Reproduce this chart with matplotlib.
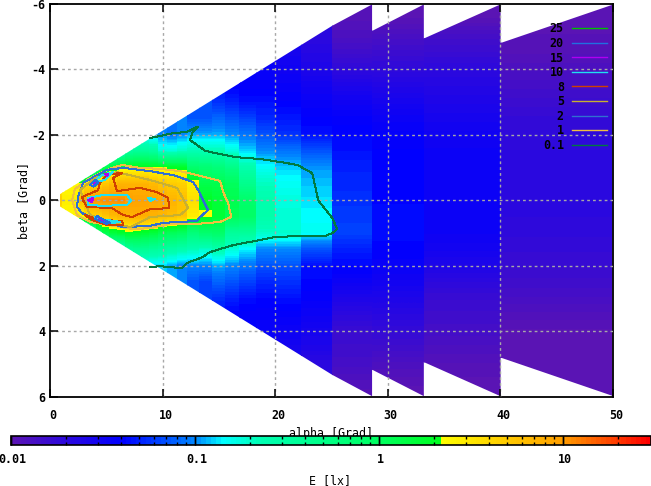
import numpy as np
import matplotlib
matplotlib.use("Agg")
import matplotlib.pyplot as plt
from matplotlib.colors import LinearSegmentedColormap, LogNorm, Normalize
from matplotlib.cm import ScalarMappable
from matplotlib.path import Path
from matplotlib.patches import PathPatch
from matplotlib.ticker import FixedLocator, FixedFormatter, NullFormatter
from matplotlib.transforms import ScaledTranslation

plt.rcParams['font.family'] = 'DejaVu Sans Mono'
plt.rcParams['font.weight'] = 'bold'
plt.rcParams['axes.unicode_minus'] = False
FS = 8.4

# ---- data ----
alpha_edges = [.85,1.05,1.35,1.65,2.05,2.55,3.05,3.55,4.05,4.65,5.25,5.95,6.65,7.35,8.05,8.75,
               9.55,10.35,11.25,12.15,13.2,14.4,15.5,16.8,18.3,20,22.3,25.07,28.6,33.2,40,49.95]
beta_step = 0.5
# log10(E) per alpha column, beta nodes centred on 0 with step 0.5
log_e_columns = [
 [.34,.72,.34],
 [.36,.45,.36],
 [.36,.44,.36],
 [.36,.44,.36],
 [-.2,.38,.44,.38,-.2],
 [-.5,.35,.8,.35,-.5],
 [-.6,.5,.95,.5,-.6],
 [-.5,.6,1.05,.6,-.5],
 [-.8,-.1,.62,1.05,.62,-.05,-.8],
 [-.75,.05,.72,1.05,.72,.1,-.75],
 [-.7,.2,.8,1.05,.8,.2,-.7],
 [-.7,.3,.85,1.05,.85,.25,-.7],
 [-.85,-.5,.33,.85,1.0,.85,.3,-.45,-.85],
 [-.85,-.45,.35,.85,.97,.88,.28,-.4,-.85],
 [-.9,-.45,.35,.85,.97,.88,.25,-.4,-.9],
 [-.95,-.5,.33,.8,.95,.85,.2,-.45,-.9],
 [-1.0,-.75,.33,.72,.92,.82,.1,-.5,-.9],
 [-1.05,-.75,.3,.68,.85,.78,.05,-.55,-.95],
 [-1.0,-.7,.28,.65,.78,.72,.0,-.6,-1.0],
 [-1.15,-.95,-.65,-.1,.45,.55,.45,-.2,-.65,-1.0,-1.15],
 [-1.15,-.95,-.65,-.15,.1,.3,.36,-.1,-.7,-1.0,-1.2],
 [-1.35,-1.25,-1.1,-.95,-.65,-.2,.1,.2,.22,-.05,-.6,-.95,-1.1,-1.25,-1.35],
 [-1.4,-1.3,-1.15,-1.0,-.75,-.3,.02,.08,.05,-.45,-.75,-1.0,-1.15,-1.3,-1.4],
 [-1.42,-1.35,-1.2,-1.05,-.9,-.6,-.35,-.08,-.05,-.45,-.85,-1.05,-1.2,-1.35,-1.42],
 [-1.45,-1.42,-1.35,-1.28,-1.15,-1.0,-.82,-.68,-.6,-.58,-.7,-1.0,-1.15,-1.28,-1.38,-1.42,-1.45],
 [-1.55,-1.5,-1.45,-1.4,-1.33,-1.25,-1.05,-.9,-.82,-.76,-.74,-.72,-1.0,-1.15,-1.25,-1.35,-1.42,-1.48,-1.55],
 [-1.7,-1.65,-1.6,-1.52,-1.45,-1.4,-1.35,-1.15,-.98,-.92,-.88,-.84,-.82,-1.15,-1.35,-1.38,-1.42,-1.48,-1.55,-1.6,-1.7],
 [-1.97,-1.95,-1.9,-1.82,-1.72,-1.6,-1.5,-1.42,-1.38,-1.35,-1.3,-1.28,-1.25,-1.22,-1.2,-1.3,-1.38,-1.48,-1.6,-1.7,-1.78,-1.82,-1.85,-1.92,-1.97],
 [-2.0,-1.97,-1.88,-1.8,-1.72,-1.63,-1.55,-1.47,-1.42,-1.4,-1.38,-1.38,-1.38,-1.36,-1.35,-1.4,-1.45,-1.52,-1.6,-1.68,-1.75,-1.82,-1.9,-1.96,-2.0],
 [-2.0,-1.97,-1.85,-1.78,-1.7,-1.65,-1.6,-1.55,-1.5,-1.48,-1.47,-1.47,-1.47,-1.47,-1.48,-1.53,-1.6,-1.7,-1.78,-1.82,-1.85,-1.9,-1.95,-1.98,-2.0],
 [-2.0,-2.0,-1.97,-1.95,-1.9,-1.85,-1.8,-1.75,-1.72,-1.7,-1.68,-1.68,-1.68,-1.7,-1.72,-1.75,-1.78,-1.82,-1.87,-1.93,-1.98,-2.0,-2.0,-2.0,-2.0],
]
wedge_start = [.85, 25.07, 28.6, 33.2, 40.0]
wedge_end = [25.07, 28.6, 33.2, 40.0, 49.95]
halfwidth_start = [.18, 5.33, 5.17, 4.94, 4.8]
halfwidth_end = [5.33, 5.98, 5.98, 5.98, 5.97]

c01_a = [8.89,10.93,12.18,13.07,13.16,12.62,12.44,13.78,15.11,16.44,18.67,20.44,21.96,23.29,23.56,23.82,25.07,25.51,25.07,24.44,22.22,20,18.22,16.27,14.49,14.04,13.6,12.18,11.73,10.67,9.78,8.89]
c01_b = [-1.90,-2.05,-2.09,-2.24,-2.24,-2.05,-1.84,-1.51,-1.41,-1.32,-1.26,-1.17,-1.08,-.83,-.41,0,.54,.88,1.0,1.09,1.09,1.12,1.24,1.37,1.55,1.61,1.73,1.91,2.07,2.04,2.01,2.04]
c1_a = [2.22,3.56,5.51,6.4,8,9.78,11.56,13.07,15.11,15.38,15.82,16.09,15.11,13.07,10.67,8.89,7.38,5.6,3.56,2.4,1.96,2.22]
c1_b = [-.35,-.68,-.99,-1.08,-.99,-.96,-.89,-.77,-.59,-.25,.08,.51,.66,.72,.72,.85,.88,.78,.66,.45,0,-.35]
c2_a = [2.93,5.07,6.49,8.89,10.93,12.71,13.16,13.6,14.04,13.33,13.07,10.04,8.89,6.49,4.18,2.84,2.4,2.49,2.93]
c2_b = [-.53,-.93,-.99,-.89,-.77,-.56,-.31,0,.3,.51,.63,.69,.78,.82,.6,.39,.2,-.1,-.53]
c5_a = [5.96,8.89,11.29,12.27,11.56,8.89,7.11,5.33,3.56,2.67,4,5.96]
c5_b = [-.86,-.62,-.38,.24,.45,.51,.82,.66,.45,-.31,-.68,-.86]
c8_a = [2.84,4.27,4.44,5.16,6.4,5.6,5.96,8,9.51,10.49,10.58,8.89,7.29,6.49,5.51,3.29,2.93,2.84]
c8_b = [-.1,-.31,-.53,-.8,-.83,-.68,-.28,-.38,-.25,-.07,.24,.27,.51,.45,.24,.2,0,-.1]
c8b_a = [3.11,4.44,6.4,6.49,5.07,3.73,3.11]
c8b_b = [.45,.6,.63,.75,.75,.6,.45]
c10_a = [3.38,4.71,6.84,7.2,6.84,4.71,3.38,3.38]
c10_b = [-.07,-.16,-.16,0,.14,.17,.14,-.07]
c10b_a = [8.71,9.33,8.89,8.71]
c10b_b = [-.07,-.04,.02,-.07]
c10c_a = [3.73,4.62,5.6,4.89,3.73]
c10c_b = [-.53,-.77,-.86,-.62,-.53]
c10d_a = [4,5.51,6.22,4.44,4]
c10d_b = [.51,.69,.66,.57,.51]
c15_a = [3.38,3.82,3.73,3.38]
c15_b = [0,-.07,.05,0]
c15b_a = [3.73,4.18,4,3.73]
c15b_b = [-.53,-.59,-.5,-.53]
c15c_a = [4.89,5.16,5.07,4.89]
c15c_b = [-.8,-.8,-.74,-.8]
c15d_a = [4.36,4.89,4.62,4.36]
c15d_b = [.54,.63,.66,.54]
c20_a = [3.56,4.0,4.3,3.9,3.56]
c20_b = [-.47,-.62,-.56,-.42,-.47]
c20b_a = [4.18,5.33,5.0,4.0,4.18]
c20b_b = [.48,.69,.72,.57,.48]

legend_labels = ['25','20','15','10','8','5','2','1','0.1']
legend_colors = ['#00c000','#2070e0','#b000f0','#20e0f0','#d04000','#c8b030','#3070d0','#f0c040','#007a40']
contours = {
 '25': [],
 '20': [(c20_a,c20_b),(c20b_a,c20b_b)],
 '15': [(c15_a,c15_b),(c15b_a,c15b_b),(c15c_a,c15c_b),(c15d_a,c15d_b)],
 '10': [(c10_a,c10_b),(c10b_a,c10b_b),(c10c_a,c10c_b),(c10d_a,c10d_b)],
 '8': [(c8_a,c8_b),(c8b_a,c8b_b)],
 '5': [(c5_a,c5_b)],
 '2': [(c2_a,c2_b)],
 '1': [(c1_a,c1_b)],
 '0.1': [(c01_a,c01_b)],
}
draw_order = ['0.1','1','2','5','8','10','15','20']
cbar_ticks = [.01,.1,1,10]
cbar_ticklabels = ['0.01','0.1','1','10']
E_min, E_max = .01, 30

# ---- figure ----
W, H = 651, 486
fig = plt.figure(figsize=(W/100, H/100), dpi=100)
L, R, T, B = 50, 613, 3.8, 396.8
ax = fig.add_axes([L/W, 1-B/H, (R-L)/W, (B-T)/H])
ax.set_zorder(1)

lo = np.log10(E_min); hi = np.log10(E_max)
def t(v): return (v-lo)/(hi-lo)
j = t(np.log10(2.17))
stops = [(0,'#5a14b4'),(t(-1.7),'#2a08e0'),(t(-1.4),'#0000ff'),(t(-1.0),'#0088ff'),(t(-.85),'#00ffff'),
         (t(-.65),'#00ffb4'),(t(0),'#00ff60'),(j,'#00ff20'),(j+1e-4,'#ffff00'),(t(1),'#ffa000'),(1,'#ff0000')]
smooth = LinearSegmentedColormap.from_list('pal', stops, N=1024)
cmap = LinearSegmentedColormap.from_list('pal_d', smooth(np.linspace(0,1,128)), N=128)
img_norm = Normalize(lo, hi)

verts, codes = [], []
for a0,a1,h0,h1 in zip(wedge_start,wedge_end,halfwidth_start,halfwidth_end):
    verts += [(a0,-h0),(a1,-h1),(a1,h1),(a0,h0),(a0,-h0)]
    codes += [Path.MOVETO,Path.LINETO,Path.LINETO,Path.LINETO,Path.CLOSEPOLY]
clip = PathPatch(Path(verts,codes), transform=ax.transData, fc='none', ec='none')
ax.add_patch(clip)

n_nodes = 25
half = (n_nodes-1)/2*beta_step + beta_step/2
for i,col in enumerate(log_e_columns):
    pad = (n_nodes-len(col))//2
    arr = np.pad(np.array(col,float), pad, mode='edge')
    arr = np.column_stack([arr,arr])
    im = ax.imshow(arr, extent=[alpha_edges[i],alpha_edges[i+1]+.04,half,-half], aspect='auto',
                   origin='upper', cmap=cmap, norm=img_norm, interpolation='bilinear',
                   interpolation_stage='data', zorder=1)
    im.set_clip_path(clip)

ax.set_xlim(0,50); ax.set_ylim(6,-6)
ax.set_xticks(range(0,51,10)); ax.set_yticks(range(-6,7,2))
ax.grid(True, color='#a8a8a8', lw=1, dashes=(2,2.2), zorder=3)
ax.set_axisbelow(False)
for g in (ax.xaxis.get_gridlines()[0], ax.xaxis.get_gridlines()[-1],
          ax.yaxis.get_gridlines()[0], ax.yaxis.get_gridlines()[-1]):
    g.set_visible(False)
ax.tick_params(direction='in', length=5.8, width=1.1, top=True, right=False, labelsize=FS)
ax.tick_params(axis='x', pad=9)
ax.tick_params(axis='y', pad=3.5)
for s in ax.spines.values(): s.set_linewidth(1.3)
off = ScaledTranslation(3/100,0,fig.dpi_scale_trans)
for lab in ax.get_xticklabels(): lab.set_transform(lab.get_transform()+off)

handles=[]
for lab,colr in zip(legend_labels,legend_colors):
    h, = ax.plot([],[],color=colr,lw=1,label=lab)
    handles.append(h)
colour_of = dict(zip(legend_labels,legend_colors))
for lab in draw_order:
    for xs,ys in contours[lab]:
        ax.plot(xs,ys,color=colour_of[lab],lw=.72,zorder=4,antialiased=False)
ax.legend(handles=handles, loc='upper right', bbox_to_anchor=(607/W,1-22.5/H), bbox_transform=fig.transFigure,
          frameon=False, markerfirst=False, fontsize=FS, handlelength=3, handletextpad=.7,
          labelspacing=.13, borderpad=0, borderaxespad=0)

ax.set_xlabel('alpha [Grad]', fontsize=FS, va='center')
ax.xaxis.set_label_coords(.499, -(434-B)/(B-T))
ax.set_ylabel('beta [Grad]', fontsize=FS, va='center')
ax.yaxis.set_label_coords((24-L)/(R-L), .5)

cax = fig.add_axes([10.5/W, 1-445/H, 640/W, 9/H])
cax.set_zorder(2)
cb = fig.colorbar(ScalarMappable(LogNorm(E_min,E_max),cmap=cmap), cax=cax, orientation='horizontal')
cb.outline.set_linewidth(1.2)
cax.xaxis.set_major_locator(FixedLocator(cbar_ticks))
cax.xaxis.set_major_formatter(FixedFormatter(cbar_ticklabels))
minor = [m*d for d in cbar_ticks for m in range(2,10) if m*d<E_max]
cax.xaxis.set_minor_locator(FixedLocator(minor))
cax.xaxis.set_minor_formatter(NullFormatter())
cax.tick_params(which='major', direction='in', length=6.5, width=1, top=True, labelsize=FS, pad=6)
cax.tick_params(which='minor', direction='in', length=2.2, width=1, top=True)
off2 = ScaledTranslation(2/100,0,fig.dpi_scale_trans)
for lab in cax.get_xticklabels(): lab.set_transform(lab.get_transform()+off2)
cax.set_xlabel('E [lx]', fontsize=FS, va='center')
cax.xaxis.set_label_coords((330-10.5)/640, -(481-445)/9)

fig.savefig('out.png', dpi=100)
